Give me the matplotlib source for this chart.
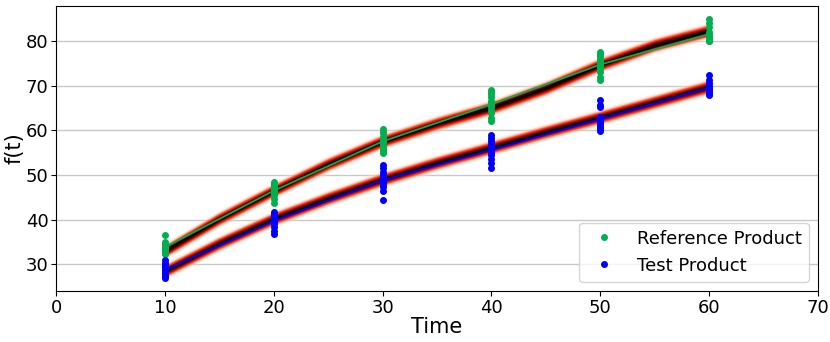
import numpy as np
import matplotlib.pyplot as plt
from matplotlib.colors import LinearSegmentedColormap

times = [10, 20, 30, 40, 50, 60]
ref_vals = [
    [36.6, 35.0, 34.6, 34.2, 33.8, 33.4, 33.0, 32.8, 32.5, 32.2, 33.6, 34.0],
    [48.5, 48.0, 47.6, 47.2, 47.0, 46.8, 46.5, 46.2, 45.8, 45.4, 44.6, 43.8],
    [60.2, 59.7, 59.3, 58.5, 58.0, 57.6, 57.2, 56.8, 56.3, 55.8, 55.4, 55.0],
    [69.1, 68.5, 68.0, 67.4, 66.6, 66.0, 65.6, 65.2, 64.6, 63.8, 62.8, 62.0],
    [77.5, 77.0, 76.5, 76.0, 75.5, 75.0, 74.6, 74.2, 73.8, 73.0, 72.0, 71.2],
    [84.8, 84.0, 83.2, 82.0, 81.4, 81.0, 80.8, 80.6, 80.4, 80.2, 80.0, 79.9],
]
test_vals = [
    [31.0, 30.2, 29.8, 29.4, 29.0, 28.6, 28.2, 27.8, 27.4, 27.0, 28.0, 28.8],
    [41.8, 41.3, 41.0, 40.7, 40.4, 40.1, 39.8, 39.5, 39.0, 38.4, 37.4, 36.8],
    [52.3, 51.5, 50.6, 50.0, 49.5, 49.0, 48.6, 48.2, 47.8, 47.2, 46.5, 44.3],
    [58.9, 58.2, 57.6, 57.0, 56.5, 56.0, 55.6, 55.0, 54.4, 53.6, 52.6, 51.6],
    [66.8, 65.6, 65.2, 63.0, 62.6, 62.2, 61.8, 61.4, 61.0, 60.6, 60.2, 59.8],
    [72.3, 71.2, 70.6, 70.0, 69.6, 69.2, 68.9, 68.6, 68.3, 68.1, 67.9, 69.4],
]

# fitted model curves (band centres)
fit_t = [10, 15, 20, 25, 30, 35, 40, 45, 50, 55, 60]
ref_fit = [32.8, 40.0, 46.3, 52.2, 57.3, 61.3, 64.8, 69.2, 74.4, 78.8, 82.0]
test_fit = [28.3, 34.5, 40.0, 44.6, 48.8, 52.5, 55.9, 59.4, 62.7, 66.1, 69.5]
band_sd = 0.8

fig, ax = plt.subplots(figsize=(8.3, 3.42), dpi=100)
fig.subplots_adjust(left=0.0675, right=0.9855, bottom=0.149, top=0.9825)

# density band of the model fits
cmap = LinearSegmentedColormap.from_list('band', [
    (0.0, (1.0, 1.0, 1.0, 0.0)),
    (0.12, (1.0, 0.8, 0.72, 0.5)),
    (0.35, (1.0, 0.35, 0.2, 1.0)),
    (0.65, (0.8, 0.05, 0.0, 1.0)),
    (0.85, (0.4, 0.0, 0.0, 1.0)),
    (1.0, (0.0, 0.0, 0.0, 1.0)),
])
gx = np.linspace(10, 60, 600)
gy = np.linspace(24, 88, 700)
dens = np.zeros((len(gy), len(gx)))
for fit in (ref_fit, test_fit):
    c = np.interp(gx, fit_t, fit)
    dens = np.maximum(dens, np.exp(-0.5 * ((gy[:, None] - c[None, :]) / band_sd) ** 2))
ax.imshow(dens, extent=(10, 60, 24, 88), origin='lower', aspect='auto',
          cmap=cmap, vmin=0, vmax=1.0, interpolation='bilinear', zorder=2)

green = '#00b050'
blue = '#0000ff'
for i, t in enumerate(times):
    ax.plot([t] * len(ref_vals[i]), ref_vals[i], 'o', color=green, ms=4, zorder=4,
            label='Reference Product' if i == 0 else None)
    ax.plot([t] * len(test_vals[i]), test_vals[i], 'o', color=blue, ms=4, zorder=4,
            label='Test Product' if i == 0 else None)
ax.plot(times, [np.mean(v) for v in ref_vals], color=green, lw=1.3, zorder=3)
ax.plot(times, [np.mean(v) for v in test_vals], color=blue, lw=1.3, zorder=3)

ax.set_xlim(0, 70)
ax.set_ylim(24, 87.8)
ax.set_yticks([30, 40, 50, 60, 70, 80])
ax.yaxis.grid(True, color='#c8c8c8', lw=1)
ax.set_axisbelow(True)
ax.tick_params(labelsize=13, pad=2)
ax.set_xlabel('Time', fontsize=15, labelpad=0)
ax.set_ylabel('f(t)', fontsize=15, labelpad=1)
ax.legend(loc='lower right', fontsize=13)
fig.savefig('out.png', dpi=100)
